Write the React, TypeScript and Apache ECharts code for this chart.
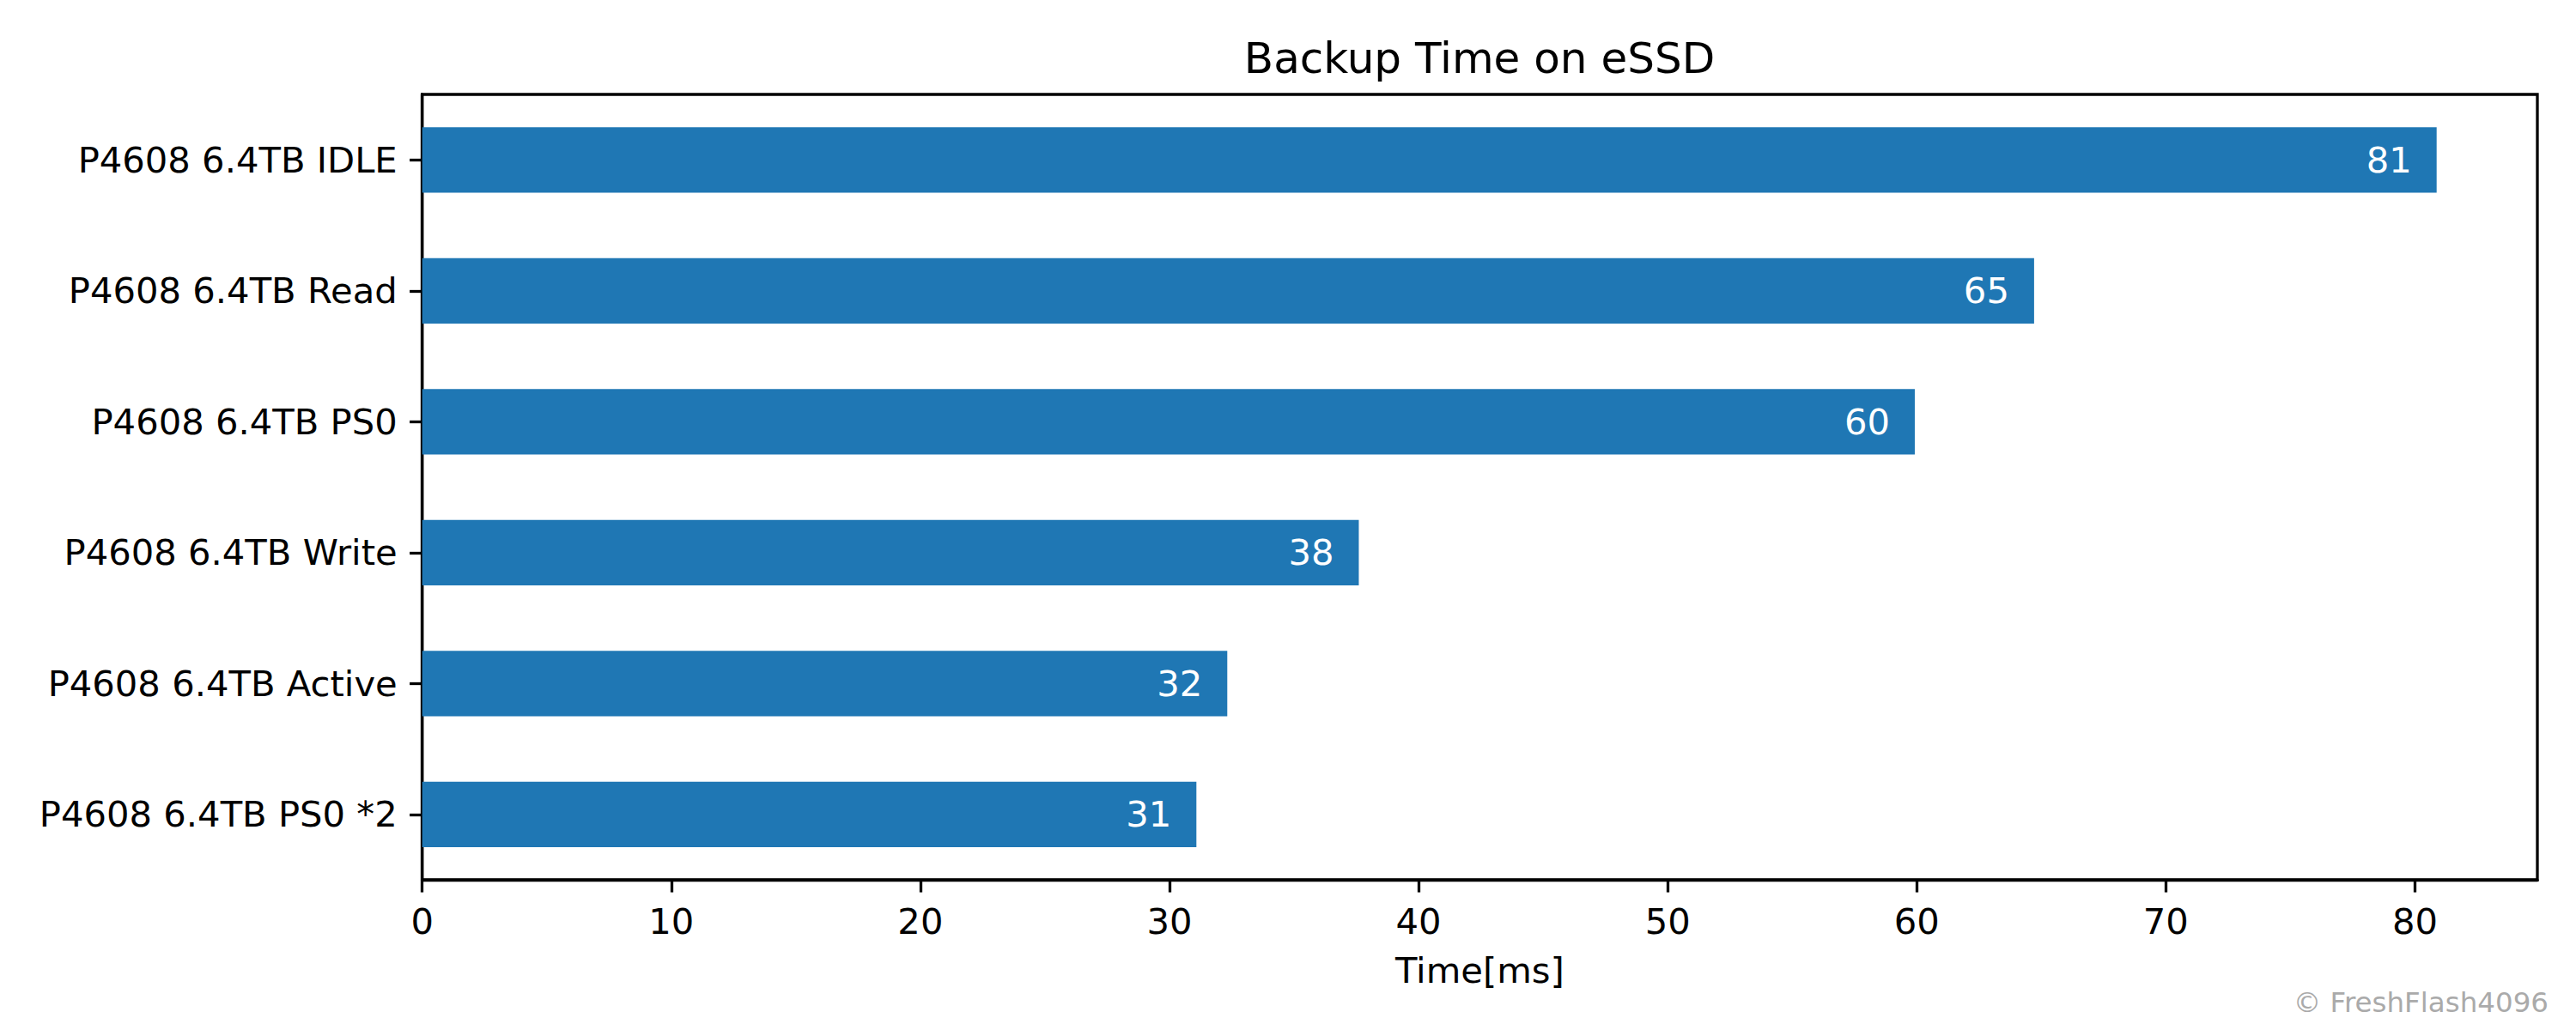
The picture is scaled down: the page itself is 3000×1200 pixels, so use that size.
import React, { useEffect, useRef } from "react";
import * as echarts from "echarts";

const categories = [
  "P4608 6.4TB IDLE",
  "P4608 6.4TB Read",
  "P4608 6.4TB PS0",
  "P4608 6.4TB Write",
  "P4608 6.4TB Active",
  "P4608 6.4TB PS0 *2",
];
const backupTimes = [80.87, 64.71, 59.92, 37.6, 32.32, 31.08];
const xTickValues = [0, 10, 20, 30, 40, 50, 60, 70, 80];
const titleText = "Backup Time on eSSD";
const xAxisName = "Time[ms]";
const watermark = "\u00A9 FreshFlash4096";

const FONT = "DejaVu Sans";

export default function App() {
  const ref = useRef<HTMLDivElement>(null);
  useEffect(() => {
    if (!ref.current) return;
    const chart = echarts.init(ref.current, null, { renderer: "svg" });
    const xMax = Math.max(...backupTimes) * 1.05;
    chart.setOption({
      animation: false,
      backgroundColor: "#ffffff",
      textStyle: { fontFamily: FONT },
      grid: {
        left: 491.7,
        right: 45,
        top: 110,
        bottom: 175,
        show: true,
        borderColor: "#000000",
        borderWidth: 3.3,
        backgroundColor: "transparent",
      },
      xAxis: {
        type: "value",
        min: 0,
        max: xMax,
        interval: 10,
        name: xAxisName,
        nameLocation: "middle",
        nameGap: 84,
        nameTextStyle: { fontSize: 41.7, color: "#000", fontFamily: FONT },
        splitLine: { show: false },
        axisLine: { show: true, lineStyle: { color: "#000", width: 3.3 } },
        axisTick: {
          show: true,
          length: 14.6,
          customValues: xTickValues,
          lineStyle: { color: "#000", width: 3.3 },
        },
        axisLabel: {
          fontSize: 41.7,
          color: "#000",
          fontFamily: FONT,
          margin: 27,
          customValues: xTickValues,
        },
      },
      yAxis: {
        type: "category",
        inverse: true,
        data: categories,
        axisLine: { show: true, lineStyle: { color: "#000", width: 3.3 } },
        axisTick: {
          show: true,
          alignWithLabel: true,
          length: 14.6,
          lineStyle: { color: "#000", width: 3.3 },
        },
        axisLabel: {
          fontSize: 41.7,
          color: "#000",
          fontFamily: FONT,
          margin: 29,
        },
        splitLine: { show: false },
      },
      series: [
        {
          type: "bar",
          data: backupTimes,
          barWidth: "50%",
          itemStyle: { color: "#1f77b4" },
          label: {
            show: true,
            position: "insideRight",
            distance: 29,
            color: "#ffffff",
            fontSize: 41.7,
            fontFamily: FONT,
            formatter: (p: any) => String(Math.round(p.value)),
          },
        },
      ],
      graphic: [
        {
          type: "text",
          x: 1723,
          y: 68,
          style: {
            text: titleText,
            fontSize: 50,
            fontFamily: FONT,
            fill: "#000",
            textAlign: "center",
            textVerticalAlign: "middle",
          },
        },
        {
          type: "text",
          x: 2968,
          y: 1168,
          style: {
            text: watermark,
            fontSize: 32.5,
            fontFamily: FONT,
            fill: "#aaaaaa",
            textAlign: "right",
            textVerticalAlign: "middle",
          },
        },
      ],
    });
    return () => chart.dispose();
  }, []);
  return (
    <div
      ref={ref}
      style={{ position: "fixed", left: 0, top: 0, width: 3000, height: 1200 }}
    />
  );
}
